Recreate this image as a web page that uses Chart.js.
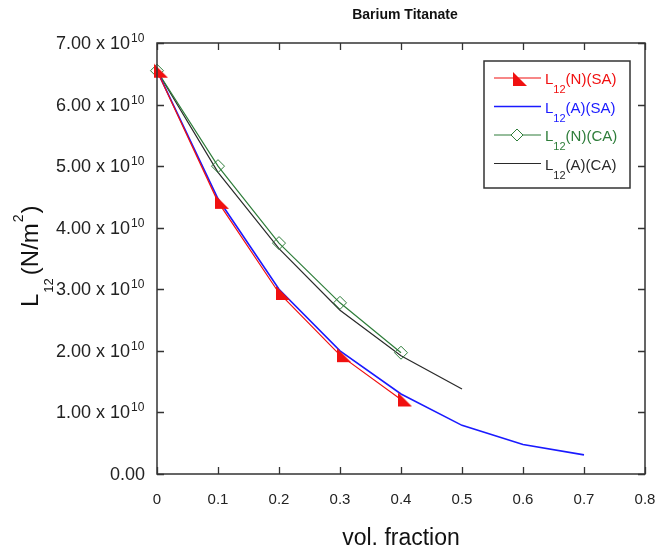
<!DOCTYPE html>
<html>
<head>
<meta charset="utf-8">
<script src="https://cdn.jsdelivr.net/npm/chart.js@4.4.1/dist/chart.umd.min.js"></script>
<style>
  html, body { margin: 0; padding: 0; background: #fff; }
  #wrap { width: 659px; height: 553px; }
</style>
</head>
<body>
<div id="wrap"><canvas id="l12Chart" width="659" height="553"></canvas></div>
<script>
/* Data: L12 vs volume fraction, Barium Titanate */
var fracNSA = [0, 0.1, 0.2, 0.3, 0.4];
var l12NSA = [6.55e10, 4.42e10, 2.94e10, 1.93e10, 1.21e10];

var fracASA = [0, 0.1, 0.2, 0.3, 0.4, 0.5, 0.6, 0.7];
var l12ASA = [6.55e10, 4.47e10, 3.0e10, 2.0e10, 1.3e10, 0.79e10, 0.48e10, 0.31e10];

var fracNCA = [0, 0.1, 0.2, 0.3, 0.4];
var l12NCA = [6.55e10, 5.0e10, 3.75e10, 2.78e10, 1.97e10];

var fracACA = [0, 0.1, 0.2, 0.3, 0.4, 0.5];
var l12ACA = [6.55e10, 4.9e10, 3.66e10, 2.66e10, 1.92e10, 1.38e10];

/* Axis ticks and labels */
var xTicks = [0, 0.1, 0.2, 0.3, 0.4, 0.5, 0.6, 0.7, 0.8];
var xTickLabels = ["0", "0.1", "0.2", "0.3", "0.4", "0.5", "0.6", "0.7", "0.8"];
var yTicks = [0, 1e10, 2e10, 3e10, 4e10, 5e10, 6e10, 7e10];
var yTickLabels = ["0.00", "1.00 x 10", "2.00 x 10", "3.00 x 10", "4.00 x 10", "5.00 x 10", "6.00 x 10", "7.00 x 10"];
var yTickExp = ["", "10", "10", "10", "10", "10", "10", "10"];
var seriesNames = ["(N)(SA)", "(A)(SA)", "(N)(CA)", "(A)(CA)"];
var seriesColors = ["#f01010", "#1a1aff", "#2e7d3a", "#2a2a2a"];

var FONT = "'Liberation Sans', Arial, sans-serif";

function toPoints(xs, ys) {
	var pts = [];
	for (var i = 0; i < xs.length; i++) {
		pts.push({ x: xs[i], y: ys[i] });
	}
	return pts;
}

/* filled right triangle marker, point sits near its upper-left corner */
function makeTriangle(color) {
	var c = document.createElement("canvas");
	c.width = 30;
	c.height = 30;
	var g = c.getContext("2d");
	g.fillStyle = color;
	g.beginPath();
	g.moveTo(12, 8);
	g.lineTo(12, 22);
	g.lineTo(26, 22);
	g.closePath();
	g.fill();
	return c;
}
var redTriangle = makeTriangle(seriesColors[0]);

/* draws text pieces one after another: [text, fontSize, yShift, gapAfter] */
function drawPieces(ctx, pieces, x, y) {
	var cx = x;
	for (var i = 0; i < pieces.length; i++) {
		var p = pieces[i];
		ctx.font = p[1] + "px " + FONT;
		ctx.fillText(p[0], cx, y + p[2]);
		cx += ctx.measureText(p[0]).width + (p[3] || 0);
	}
	return cx - x;
}

var framePlugin = {
	id: "frame",
	afterDraw: function (chart) {
		var ctx = chart.ctx;
		var a = chart.chartArea;
		var xs = chart.scales.x;
		var ys = chart.scales.y;
		ctx.save();

		/* plot frame */
		ctx.strokeStyle = "#333";
		ctx.lineWidth = 1.5;
		ctx.strokeRect(a.left, a.top, a.right - a.left, a.bottom - a.top);

		/* inward ticks on all four sides */
		ctx.lineWidth = 1.3;
		ctx.beginPath();
		for (var i = 0; i < xTicks.length; i++) {
			var px = Math.round(xs.getPixelForValue(xTicks[i])) + 0.5;
			ctx.moveTo(px, a.bottom);
			ctx.lineTo(px, a.bottom - 7);
			ctx.moveTo(px, a.top);
			ctx.lineTo(px, a.top + 7);
		}
		for (var j = 0; j < yTicks.length; j++) {
			var py = Math.round(ys.getPixelForValue(yTicks[j])) + 0.5;
			ctx.moveTo(a.left, py);
			ctx.lineTo(a.left + 7, py);
			ctx.moveTo(a.right, py);
			ctx.lineTo(a.right - 7, py);
		}
		ctx.stroke();

		ctx.fillStyle = "#222";

		/* x tick labels */
		ctx.font = "15px " + FONT;
		ctx.textAlign = "center";
		ctx.textBaseline = "alphabetic";
		for (var k = 0; k < xTicks.length; k++) {
			ctx.fillText(xTickLabels[k], xs.getPixelForValue(xTicks[k]), 504);
		}

		/* y tick labels with exponent */
		for (var m = 0; m < yTicks.length; m++) {
			var ty = ys.getPixelForValue(yTicks[m]) + 6;
			ctx.font = "18px " + FONT;
			ctx.textAlign = "right";
			if (yTickExp[m] === "") {
				ctx.fillText(yTickLabels[m], 145, ty);
			} else {
				ctx.fillText(yTickLabels[m], 130, ty);
				ctx.font = "12px " + FONT;
				ctx.textAlign = "left";
				ctx.fillText(yTickExp[m], 131, ty - 7);
			}
		}

		/* title */
		ctx.textAlign = "center";
		ctx.font = "bold 14px " + FONT;
		ctx.fillStyle = "#111";
		ctx.fillText("Barium Titanate", (a.left + a.right) / 2 + 4, 19);

		/* x axis title */
		ctx.font = "23px " + FONT;
		ctx.fillText("vol. fraction", (a.left + a.right) / 2, 545);

		/* y axis title, rotated */
		ctx.save();
		ctx.translate(38, 307);
		ctx.rotate(-Math.PI / 2);
		ctx.textAlign = "left";
		drawPieces(ctx, [["L", 24, 0, 1], ["12", 13, 15, 3], ["(N/m", 24, 0, 1], ["2", 14, -15, 1], [")", 24, 0]], 0, 0);
		ctx.restore();

		/* legend */
		var lx = 484, ly = 61, lw = 146, lh = 127;
		ctx.fillStyle = "#fff";
		ctx.fillRect(lx, ly, lw, lh);
		ctx.strokeStyle = "#333";
		ctx.lineWidth = 1.5;
		ctx.strokeRect(lx, ly, lw, lh);
		ctx.textAlign = "left";
		for (var n = 0; n < seriesNames.length; n++) {
			var base = 84 + n * 28.5;
			var lineY = base - 6;
			ctx.strokeStyle = seriesColors[n];
			ctx.lineWidth = n === 1 ? 1.5 : 1.2;
			ctx.beginPath();
			ctx.moveTo(494, lineY);
			ctx.lineTo(541, lineY);
			ctx.stroke();
			if (n === 0) {
				ctx.drawImage(redTriangle, 516 - 15, lineY - 14);
			}
			if (n === 2) {
				ctx.beginPath();
				ctx.moveTo(517, lineY - 6);
				ctx.lineTo(523, lineY);
				ctx.lineTo(517, lineY + 6);
				ctx.lineTo(511, lineY);
				ctx.closePath();
				ctx.fillStyle = "#fff";
				ctx.fill();
				ctx.lineWidth = 1;
				ctx.stroke();
			}
			ctx.fillStyle = seriesColors[n];
			drawPieces(ctx, [["L", 15, 0, 0], ["12", 11, 9, 0], [seriesNames[n], 15, 0]], 545, base);
		}
		ctx.restore();
	}
};

window.addEventListener("DOMContentLoaded", function () {
	var ctx = document.getElementById("l12Chart").getContext("2d");
	var datasets = [
		{
			label: "L12(N)(SA)",
			data: toPoints(fracNSA, l12NSA),
			borderColor: seriesColors[0],
			borderWidth: 1.2,
			pointStyle: redTriangle,
			pointRadius: 7
		},
		{
			label: "L12(A)(SA)",
			data: toPoints(fracASA, l12ASA),
			borderColor: seriesColors[1],
			borderWidth: 1.6,
			pointRadius: 0
		},
		{
			label: "L12(N)(CA)",
			data: toPoints(fracNCA, l12NCA),
			borderColor: seriesColors[2],
			borderWidth: 1.2,
			pointStyle: "rectRot",
			pointRadius: 6.5,
			pointBorderWidth: 1,
			pointBorderColor: seriesColors[2],
			pointBackgroundColor: "rgba(255,255,255,0)"
		},
		{
			label: "L12(A)(CA)",
			data: toPoints(fracACA, l12ACA),
			borderColor: seriesColors[3],
			borderWidth: 1.2,
			pointRadius: 0
		}
	];
	for (var i = 0; i < datasets.length; i++) {
		datasets[i].fill = false;
		datasets[i].tension = 0;
		datasets[i].clip = false;
	}

	new Chart(ctx, {
		type: "line",
		data: { datasets: datasets },
		options: {
			responsive: false,
			animation: false,
			events: [],
			layout: { padding: { left: 157, right: 14, top: 43, bottom: 79 } },
			plugins: {
				legend: { display: false },
				title: { display: false },
				tooltip: { enabled: false }
			},
			scales: {
				x: {
					type: "linear",
					min: 0,
					max: 0.8,
					grid: { display: false },
					border: { display: false },
					ticks: { display: false },
					afterFit: function (scale) { scale.height = 0; }
				},
				y: {
					type: "linear",
					min: 0,
					max: 7e10,
					grid: { display: false },
					border: { display: false },
					ticks: { display: false },
					afterFit: function (scale) { scale.width = 0; }
				}
			}
		},
		plugins: [framePlugin]
	});
});
</script>
</body>
</html>
